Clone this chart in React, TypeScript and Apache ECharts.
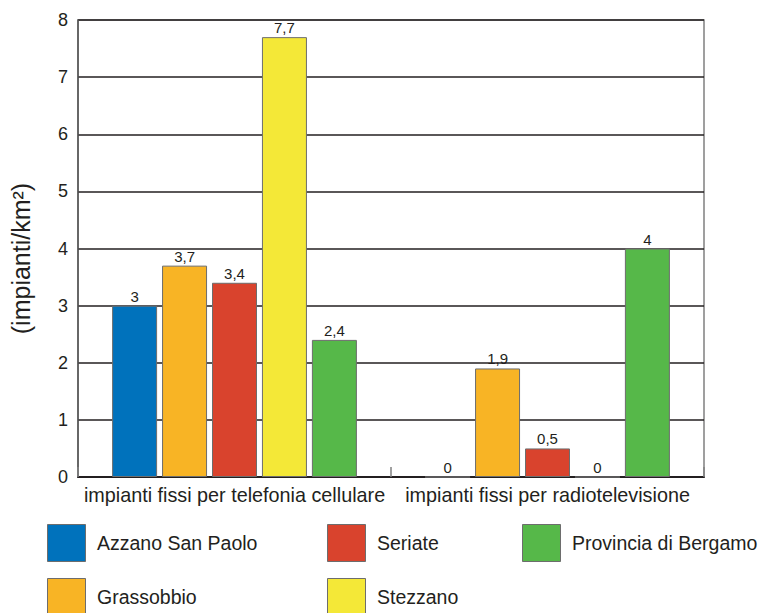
import React, { useEffect, useRef } from "react";
import * as echarts from "echarts";

const categories = ["impianti fissi per telefonia cellulare", "impianti fissi per radiotelevisione"];
const seriesNames = ["Azzano San Paolo", "Grassobbio", "Seriate", "Stezzano", "Provincia di Bergamo"];
const azzano = [3, 0];
const grassobbio = [3.7, 1.9];
const seriate = [3.4, 0.5];
const stezzano = [7.7, 0];
const provincia = [2.4, 4];
const colors = ["#0072bc", "#f8b425", "#d9432d", "#f4e837", "#56b849"];
const yTicks = [0, 1, 2, 3, 4, 5, 6, 7, 8];

// legend layout: [series index, column, row]
const legendLayout = [
  [0, 0, 0],
  [1, 0, 1],
  [2, 1, 0],
  [3, 1, 1],
  [4, 2, 0],
];

export default function App() {
  const ref = useRef<HTMLDivElement>(null);
  useEffect(() => {
    const chart = echarts.init(ref.current!, null, { renderer: "svg" });
    const data = [azzano, grassobbio, seriate, stezzano, provincia];
    const font = "Liberation Sans, Arial, sans-serif";
    const colX = [47, 327, 522];
    const rowY = [524, 578];
    const graphic: any[] = [];
    legendLayout.forEach(([si, c, r]) => {
      graphic.push({
        type: "rect",
        left: colX[c],
        top: rowY[r],
        shape: { width: 38, height: 37 },
        style: { fill: colors[si], stroke: "#6d6d6d", lineWidth: 1 },
      });
      graphic.push({
        type: "text",
        x: colX[c] + 50,
        y: rowY[r] + 18.5,
        style: {
          text: seriesNames[si],
          fontSize: 19.5,
          fontFamily: font,
          fill: "#231f20",
          verticalAlign: "middle",
          align: "left",
        },
      });
    });
    chart.setOption({
      animation: false,
      textStyle: { fontFamily: font },
      grid: {
        left: 78, right: 54, top: 20, bottom: 136,
        show: true, borderColor: "#808080", borderWidth: 1.5, backgroundColor: "transparent",
      },
      graphic,
      xAxis: {
        type: "category",
        data: categories,
        axisLine: { lineStyle: { color: "#231f20", width: 2 } },
        axisTick: { show: true, inside: true, length: 10, lineStyle: { color: "#808080", width: 1.5 } },
        axisLabel: { fontSize: 19.8, color: "#231f20", margin: 8, interval: 0, fontFamily: font },
      },
      yAxis: {
        type: "value",
        min: 0,
        max: 8,
        interval: 1,
        name: "(impianti/km²)",
        nameLocation: "middle",
        nameGap: 45,
        nameTextStyle: { fontSize: 25, color: "#231f20", fontFamily: font, padding: [0, 20, 0, 0] },
        axisLine: { show: true, lineStyle: { color: "#555", width: 1.5 } },
        axisTick: { show: false },
        axisLabel: {
          fontSize: 18, color: "#231f20", margin: 10, fontFamily: font,
          formatter: (v: number) => (yTicks.includes(v) ? String(v) : ""),
        },
        splitLine: { show: true, lineStyle: { color: "#231f20", width: 1.5 } },
      },
      series: seriesNames.map((name, i) => ({
        name,
        type: "bar",
        data: data[i],
        barWidth: 45,
        barGap: "11%",
        itemStyle: { color: colors[i], borderColor: "#6d6d6d", borderWidth: 1 },
        label: {
          show: true,
          position: "top",
          distance: 2,
          fontSize: 15,
          color: "#231f20",
          fontFamily: font,
          formatter: (p: any) => String(p.value).replace(".", ","),
        },
      })),
    });
    return () => chart.dispose();
  }, []);
  return <div ref={ref} style={{ width: 758, height: 613, position: "absolute", left: 0, top: 0 }} />;
}
